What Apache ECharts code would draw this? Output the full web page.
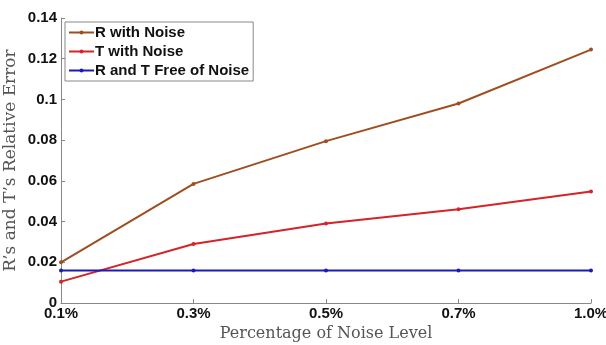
<!DOCTYPE html>
<html><head><meta charset="utf-8">
<script src="https://cdn.jsdelivr.net/npm/echarts@6/dist/echarts.min.js"></script>
<style>html,body{margin:0;padding:0;background:#fff}#c{width:606px;height:345px}</style>
</head><body><div id="c"></div>
<script>
const categories = ['0.1%', '0.3%', '0.5%', '0.7%', '1.0%'];
const rNoise = [0.020, 0.0585, 0.0795, 0.098, 0.1245];
const tNoise = [0.0105, 0.029, 0.039, 0.046, 0.0548];
const freeNoise = [0.016, 0.016, 0.016, 0.016, 0.016];
const yTicks = [0, 0.02, 0.04, 0.06, 0.08, 0.1, 0.12, 0.14];

const chart = echarts.init(document.getElementById('c'));
const mk = (name, data, color) => ({
  name, type: 'line', data,
  symbol: 'circle', symbolSize: 4,
  lineStyle: { color, width: 2 },
  itemStyle: { color },
  animation: false
});
chart.setOption({
  animation: false,
  grid: { left: 61, right: 15, top: 18, bottom: 42, containLabel: false, outerBoundsMode: 'none' },
  legend: {
    orient: 'vertical', left: 65, top: 22,
    borderColor: '#888', borderWidth: 1, padding: [3, 4, 3, 3],
    itemGap: 4, itemWidth: 25, itemHeight: 5,
    textStyle: { fontFamily: 'Liberation Sans, Arial', fontWeight: 'bold', fontSize: 15, color: '#111', padding: [0, 0, 0, -4] },
    data: ['R with Noise', 'T with Noise', 'R and T Free of Noise']
  },
  xAxis: {
    type: 'category', data: categories, boundaryGap: false,
    name: 'Percentage of Noise Level', nameLocation: 'middle', nameGap: 19,
    nameTextStyle: { fontFamily: 'DejaVu Serif, Liberation Serif, serif', fontSize: 16, color: '#555' },
    axisLine: { lineStyle: { color: '#888' } },
    axisTick: { inside: true, length: 4, lineStyle: { color: '#888' } },
    axisLabel: { fontFamily: 'Liberation Sans, Arial', fontWeight: 'bold', fontSize: 15, color: '#111', margin: 3 },
    splitLine: { show: false }
  },
  yAxis: {
    type: 'value', min: 0, max: 0.14, interval: 0.02,
    name: "R’s and T’s Relative Error", nameLocation: 'middle', nameGap: 42, nameMoveOverlap: false,
    nameTextStyle: { fontFamily: 'DejaVu Serif, Liberation Serif, serif', fontSize: 17, color: '#555' },
    axisLine: { show: true, lineStyle: { color: '#888' } },
    axisTick: { show: true, inside: true, length: 4, lineStyle: { color: '#888' } },
    axisLabel: {
      fontFamily: 'Liberation Sans, Arial', fontWeight: 'bold', fontSize: 15, color: '#111', margin: 4,
      formatter: v => { const t = yTicks.find(x => Math.abs(x - v) < 1e-9); return t === undefined ? '' : String(+t.toFixed(2)); }
    },
    splitLine: { show: false }
  },
  series: [
    mk('R with Noise', rNoise, '#9e4f1f'),
    mk('T with Noise', tNoise, '#d52328'),
    mk('R and T Free of Noise', freeNoise, '#1b1bb8')
  ]
});
</script></body></html>
